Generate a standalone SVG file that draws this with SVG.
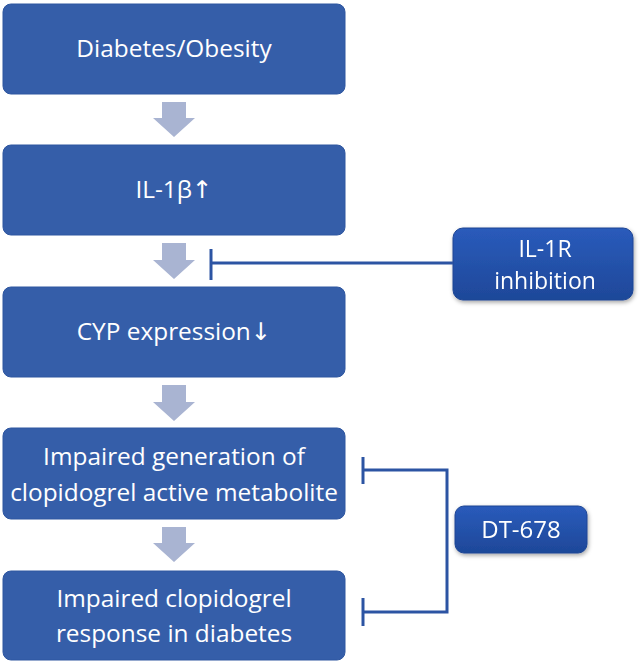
<svg xmlns="http://www.w3.org/2000/svg" width="640" height="669" viewBox="0 0 640 669">
<defs>
<style>
.box{fill:#355EA9;stroke:#2E56A0;stroke-width:1}
.txt{font-family:"Open Sans","Noto Sans","DejaVu Sans",sans-serif;font-size:24.4px;fill:#ffffff;text-anchor:middle}
.st{font-size:24px}
.sm{font-size:23px}
.arr{fill:#A9B4D2}
.con{fill:none;stroke:#2C54A3;stroke-width:3}
.side{fill:url(#g);stroke:#1F4694;stroke-width:1}
</style>
<linearGradient id="g" x1="0" y1="0" x2="0" y2="1">
<stop offset="0" stop-color="#2A5BBB"/>
<stop offset="1" stop-color="#1E4899"/>
</linearGradient>
<filter id="sh" x="-10%" y="-10%" width="130%" height="140%">
<feDropShadow dx="1" dy="2" stdDeviation="2" flood-color="#000" flood-opacity="0.35"/>
</filter>
</defs>
<g id="n1"><rect class="box" x="3" y="4" width="342" height="90" rx="8"/><text class="txt" x="174" y="57">Diabetes/Obesity</text></g>
<g id="n2"><rect class="box" x="3" y="145" width="342" height="90" rx="8"/><text class="txt" x="174" y="198">IL-1β↑</text></g>
<g id="n3"><rect class="box" x="3" y="287" width="342" height="90" rx="8"/><text class="txt" x="174" y="340">CYP expression↓</text></g>
<g id="n4"><rect class="box" x="3" y="428" width="342" height="91" rx="8"/><text class="txt" x="174" y="465">Impaired generation of</text><text class="txt" x="174" y="501">clopidogrel active metabolite</text></g>
<g id="n5"><rect class="box" x="3" y="571" width="342" height="89" rx="8"/><text class="txt" x="174" y="607">Impaired clopidogrel</text><text class="txt" x="174" y="642">response in diabetes</text></g>
<g id="n6" filter="url(#sh)"><rect class="side" x="453" y="228" width="180" height="72" rx="10"/><text class="txt sm" x="545" y="257">IL-1R</text><text class="txt sm" x="545" y="289">inhibition</text></g>
<g id="n7" filter="url(#sh)"><rect class="side" x="455" y="506" width="132" height="47" rx="9"/><text class="txt st" x="521" y="538">DT-678</text></g>
<g id="connectors">
<path class="arr" d="M162,102 H186 V118 H195 L174,137 L153,118 H162 Z"/>
<path class="arr" d="M162,243 H186 V260 H195 L174,279 L153,260 H162 Z"/>
<path class="arr" d="M162,385 H186 V402 H195 L174,421 L153,402 H162 Z"/>
<path class="arr" d="M162,527 H186 V543 H195 L174,562 L153,543 H162 Z"/>
<path class="con" d="M211,263 H453"/>
<path class="con" d="M211,249 V280"/>
<path class="con" d="M363,470 H447 V612 H363"/>
<path class="con" d="M363,457 V484"/>
<path class="con" d="M363,598 V626"/>
</g>
</svg>
